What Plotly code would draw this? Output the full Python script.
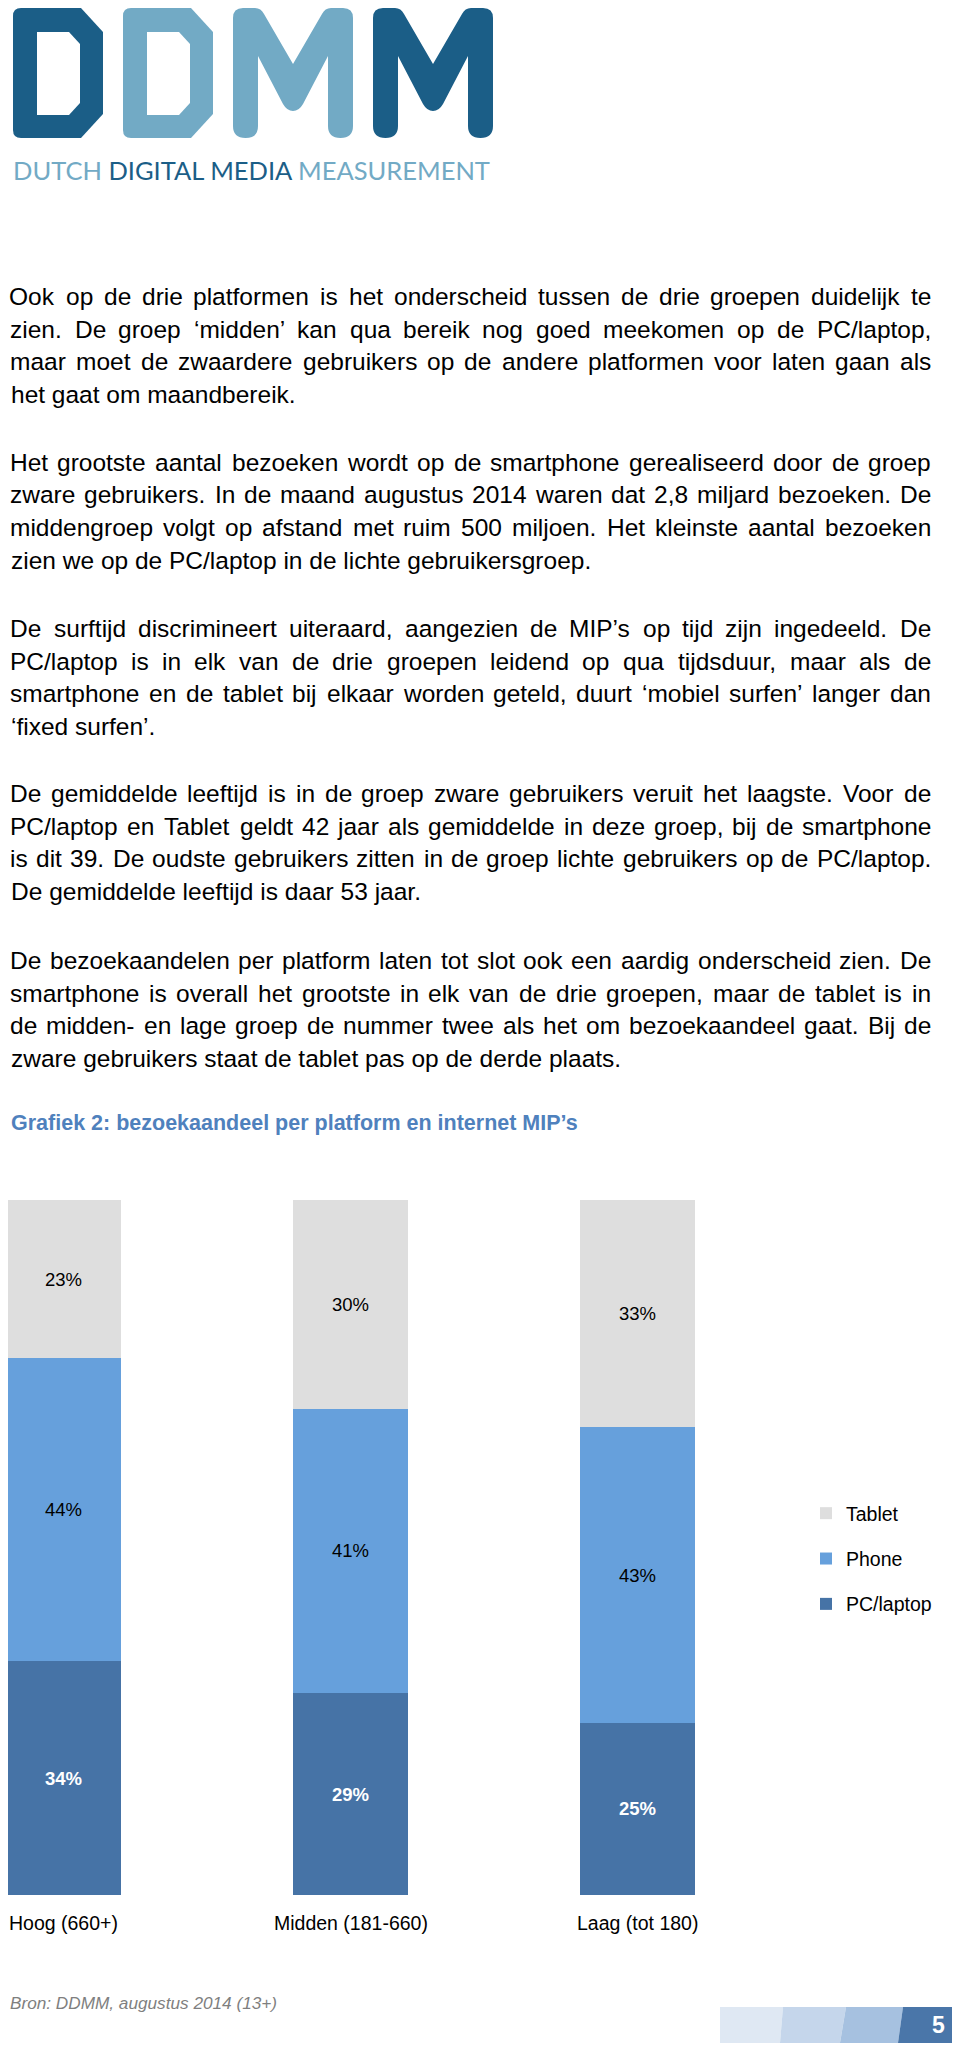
import plotly.graph_objects as go

# ---------------- data ----------------
categories = ["Hoog (660+)", "Midden (181-660)", "Laag (tot 180)"]
pc_laptop = [34, 29, 25]
phone = [44, 41, 43]
tablet = [23, 30, 33]
series_names = ["PC/laptop", "Phone", "Tablet"]
series_colors = ["#4673a6", "#66a0dc", "#dedede"]
legend_ranks = [3, 2, 1]

paragraphs = [
    ["Ook op de drie platformen is het onderscheid tussen de drie groepen duidelijk te",
     "zien. De groep ‘midden’ kan qua bereik nog goed meekomen op de PC/laptop,",
     "maar moet de zwaardere gebruikers op de andere platformen voor laten gaan als",
     "het gaat om maandbereik."],
    ["Het grootste aantal bezoeken wordt op de smartphone gerealiseerd door de groep",
     "zware gebruikers. In de maand augustus 2014 waren dat 2,8 miljard bezoeken. De",
     "middengroep volgt op afstand met ruim 500 miljoen. Het kleinste aantal bezoeken",
     "zien we op de PC/laptop in de lichte gebruikersgroep."],
    ["De surftijd discrimineert uiteraard, aangezien de MIP’s op tijd zijn ingedeeld. De",
     "PC/laptop is in elk van de drie groepen leidend op qua tijdsduur, maar als de",
     "smartphone en de tablet bij elkaar worden geteld, duurt ‘mobiel surfen’ langer dan",
     "‘fixed surfen’."],
    ["De gemiddelde leeftijd is in de groep zware gebruikers veruit het laagste. Voor de",
     "PC/laptop en Tablet geldt 42 jaar als gemiddelde in deze groep, bij de smartphone",
     "is dit 39. De oudste gebruikers zitten in de groep lichte gebruikers op de PC/laptop.",
     "De gemiddelde leeftijd is daar 53 jaar."],
    ["De bezoekaandelen per platform laten tot slot ook een aardig onderscheid zien. De",
     "smartphone is overall het grootste in elk van de drie groepen, maar de tablet is in",
     "de midden- en lage groep de nummer twee als het om bezoekaandeel gaat. Bij de",
     "zware gebruikers staat de tablet pas op de derde plaats."],
]
chart_title = "Grafiek 2: bezoekaandeel per platform en internet MIP’s"
source_note = "Bron: DDMM, augustus 2014 (13+)"
page_number = "5"
logo_subtitle = [("DUTCH", "#72aac5"), ("DIGITAL MEDIA", "#1b5e87"), ("MEASUREMENT", "#72aac5")]

# ---------------- layout constants ----------------
PAGE_W, PAGE_H = 960, 2054
OFF = 8                      # browser body margin
W, H = PAGE_W - OFF, PAGE_H - OFF
BODY_FONT = "'Liberation Sans', Arial, sans-serif"
LOGO_FONT = "Lato, 'Open Sans', sans-serif"
DARK = "#1b5e87"
LIGHT = "#72aac5"

bar_bottom, bar_top = 1895, 1200
cat_step = 287.0
first_center = 63.5

# Arial / Liberation Sans advance widths (1/1000 em) used for justification
_W = {" ": 278, ".": 278, ",": 278, ":": 278, ";": 278, "‘": 222, "’": 222, "'": 191,
      "/": 278, "-": 333, "(": 333, ")": 333, "+": 584, "%": 889}
for ch, w in zip("ABCDEFGHIJKLMNOPQRSTUVWXYZ",
                 [667, 667, 722, 722, 667, 611, 778, 722, 278, 500, 667, 556, 833, 722, 778,
                  667, 778, 722, 667, 611, 722, 667, 944, 667, 667, 611]):
    _W[ch] = w
for ch, w in zip("abcdefghijklmnopqrstuvwxyz",
                 [556, 556, 500, 556, 556, 278, 556, 556, 222, 222, 500, 222, 833, 556, 556,
                  556, 556, 333, 500, 278, 556, 500, 722, 500, 500, 500]):
    _W[ch] = w
for ch in "0123456789":
    _W[ch] = 556


def text_w(s, size):
    return sum(_W.get(c, 556) for c in s) * size / 1000.0


fig = go.Figure()

# stacked bars (normalised to 100 %)
series_vals = [pc_laptop, phone, tablet]
for name, vals, color, rank in zip(series_names, series_vals, series_colors, legend_ranks):
    is_pc = name == "PC/laptop"
    fig.add_trace(go.Bar(
        x=categories, y=vals, name=name, legendgroup=name, legendrank=rank,
        width=0.4,
        marker=dict(color=color, line=dict(width=0)),
        text=[f"{v}%" for v in vals],
        textposition="inside", insidetextanchor="middle", textangle=0,
        constraintext="none",
        textfont=dict(family=BODY_FONT, size=18.5,
                      color="white" if is_pc else "#000000",
                      weight="bold" if is_pc else "normal"),
        hoverinfo="skip",
    ))

# page overlay subplot in page-pixel units
fig.add_trace(go.Scatter(x=[None], y=[None], xaxis="x2", yaxis="y2",
                         showlegend=False, hoverinfo="skip", mode="markers"))

shapes = []
annotations = []


def d_paths(x0, y0):
    outer = (f"M {x0+8},{y0} L {x0+68},{y0} L {x0+90},{y0+24} L {x0+90},{y0+106} "
             f"L {x0+68},{y0+130} L {x0+8},{y0+130} Q {x0},{y0+130} {x0},{y0+122} "
             f"L {x0},{y0+8} Q {x0},{y0} {x0+8},{y0} Z")
    inner = (f"M {x0+24},{y0+24} L {x0+56},{y0+24} L {x0+67},{y0+36} L {x0+67},{y0+95} "
             f"L {x0+56},{y0+107} L {x0+24},{y0+107} Z")
    return outer, inner


def m_path(x0, y0):
    pts = [("M", 0, 10), ("Q", 0, 0, 10, 0), ("L", 22, 0), ("Q", 28, 0, 31, 6), ("L", 60, 56),
           ("L", 89, 6), ("Q", 92, 0, 98, 0), ("L", 110, 0), ("Q", 120, 0, 120, 10),
           ("L", 120, 118), ("Q", 120, 130, 107.5, 130), ("Q", 95, 130, 95, 118),
           ("L", 95, 48), ("L", 70, 96), ("Q", 66, 103, 60, 103), ("Q", 54, 103, 50, 96),
           ("L", 25, 48), ("L", 25, 118), ("Q", 25, 130, 12.5, 130), ("Q", 0, 130, 0, 118)]
    s = []
    for p in pts:
        coords = p[1:]
        xy = [f"{x0+coords[i]},{y0+coords[i+1]}" for i in range(0, len(coords), 2)]
        s.append(p[0] + " " + " ".join(xy))
    return " ".join(s) + " Z"


# logo letters
for x0, col in [(13, DARK), (123, LIGHT)]:
    outer, inner = d_paths(x0, 8)
    shapes.append(dict(type="path", path=outer, xref="x2", yref="y2",
                       fillcolor=col, line=dict(width=0), layer="above"))
    shapes.append(dict(type="path", path=inner, xref="x2", yref="y2",
                       fillcolor="white", line=dict(width=0), layer="above"))
for x0, col in [(233, LIGHT), (373, DARK)]:
    shapes.append(dict(type="path", path=m_path(x0, 8), xref="x2", yref="y2",
                       fillcolor=col, line=dict(width=0), layer="above"))

sub_txt = " ".join(f"<span style='color:{c}'>{w}</span>" for w, c in logo_subtitle)
annotations.append(dict(text=sub_txt, x=11, y=170, xref="x2", yref="y2",
                        xanchor="left", yanchor="middle", showarrow=False,
                        font=dict(family=LOGO_FONT, size=25.5, color=LIGHT)))

# body paragraphs (justified like the source document)
BODY_SIZE = 24.5
LEFT, RIGHT = 10, 931
para_first_line = [296.5, 462.0, 628.5, 793.5, 960.5]
line_step = 32.7
for lines, y0 in zip(paragraphs, para_first_line):
    for i, ln in enumerate(lines):
        y = y0 + i * line_step
        words = ln.split(" ")
        last = i == len(lines) - 1
        if last or len(words) < 2:
            annotations.append(dict(text=ln, x=LEFT - 1, y=y, xref="x2", yref="y2",
                                    xanchor="left", yanchor="middle", showarrow=False,
                                    font=dict(family=BODY_FONT, size=BODY_SIZE, color="#000000")))
            continue
        ws = [text_w(w, BODY_SIZE) for w in words]
        gap = (RIGHT - LEFT - sum(ws)) / (len(words) - 1)
        xpos = LEFT
        for w, wd in zip(words, ws):
            annotations.append(dict(text=w, x=xpos + wd / 2, y=y, xref="x2", yref="y2",
                                    xanchor="center", yanchor="middle", showarrow=False,
                                    font=dict(family=BODY_FONT, size=BODY_SIZE, color="#000000")))
            xpos += wd + gap

# chart title
annotations.append(dict(text=chart_title, x=LEFT - 1, y=1122.5, xref="x2", yref="y2",
                        xanchor="left", yanchor="middle", showarrow=False,
                        font=dict(family=BODY_FONT, size=21.5, color="#4f81bd", weight="bold")))

# category labels
for c in categories:
    annotations.append(dict(text=c, x=c, y=1923, xref="x", yref="y2",
                            xanchor="center", yanchor="middle", showarrow=False,
                            font=dict(family=BODY_FONT, size=19.5, color="#000000")))

# source note
annotations.append(dict(text=source_note, x=8, y=2003, xref="x2", yref="y2",
                        xanchor="left", yanchor="middle", showarrow=False,
                        font=dict(family=BODY_FONT, size=17.2, color="#7f7f7f", style="italic")))

# page number box
tops = [720, 783, 846, 903, 958]
bots = [720, 780, 840, 898, 958]
box_cols = ["#dfe8f3", "#c5d6eb", "#a6c1e0", "#4a76a9"]
for i, col in enumerate(box_cols):
    path = (f"M {bots[i]},2043 L {tops[i]},2007 L {tops[i+1]},2007 "
            f"L {bots[i+1]},2043 Z")
    shapes.append(dict(type="path", path=path, xref="x2", yref="y2",
                       fillcolor=col, line=dict(width=0), layer="above"))
annotations.append(dict(text=f"<b>{page_number}</b>", x=938, y=2025, xref="x2", yref="y2",
                        xanchor="center", yanchor="middle", showarrow=False,
                        font=dict(family=BODY_FONT, size=23, color="white")))

x_min = -(first_center - OFF) / cat_step
fig.update_layout(
    width=W, height=H,
    margin=dict(l=0, r=0, t=0, b=0),
    paper_bgcolor="white", plot_bgcolor="rgba(0,0,0,0)",
    barmode="stack", barnorm="percent",
    xaxis=dict(domain=[0, 1], range=[x_min, x_min + W / cat_step], visible=False,
               type="category", fixedrange=True),
    yaxis=dict(domain=[1 - (bar_bottom - OFF) / H, 1 - (bar_top - OFF) / H], range=[0, 100],
               visible=False, fixedrange=True),
    xaxis2=dict(domain=[0, 1], range=[OFF, PAGE_W], visible=False, anchor="y2",
                fixedrange=True),
    yaxis2=dict(domain=[0, 1], range=[PAGE_H, OFF], visible=False, anchor="x2",
                fixedrange=True),
    legend=dict(x=(806 - OFF) / W, xanchor="left", y=1 - (1494 - OFF) / H, yanchor="top",
                traceorder="grouped", tracegroupgap=17,
                font=dict(family=BODY_FONT, size=19.5, color="#000000"),
                bgcolor="rgba(0,0,0,0)"),
    showlegend=True,
    shapes=shapes,
    annotations=annotations,
    font=dict(family=BODY_FONT),
)

fig.write_html("out.html")
